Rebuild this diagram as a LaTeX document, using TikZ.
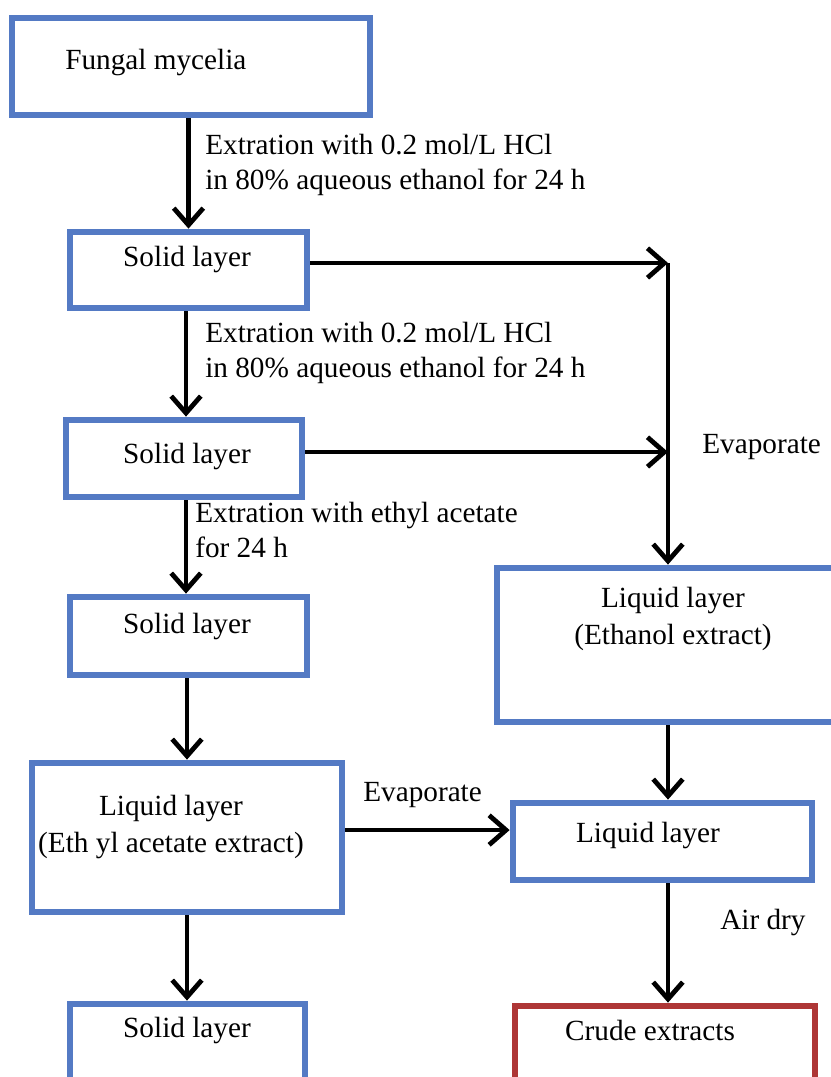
\documentclass[tikz,border=0pt]{standalone}
\usepackage{fontspec}
\setmainfont{Liberation Serif}
\usetikzlibrary{arrows.meta,fit,positioning}
\definecolor{boxblue}{RGB}{84,122,196}
\definecolor{boxred}{RGB}{174,54,54}
\tikzset{
  step box/.style={draw=boxblue,line width=4.8pt,inner sep=0pt},
  end box/.style={step box,draw=boxred},
  box text/.style={font=\fontsize{20.8pt}{26pt}\selectfont,align=center,inner sep=0pt},
  step text/.style={font=\fontsize{20.8pt}{24.9pt}\selectfont,align=left,inner sep=0pt,anchor=west},
  flow/.style={line width=3.4pt,-{Straight Barb[length=12pt,width=21pt]}},
  flow line/.style={line width=3.4pt}
}

\begin{document}
\begin{tikzpicture}[x=0.025cm,y=-0.025cm]
  \useasboundingbox (0,0) rectangle (830,1077);
  % left column
  \node[step box,fit={(12,18) (370,115)}] (fm) {};
  \node[step box,fit={(70,232) (307,308)}] (s1) {};
  \node[step box,fit={(66,420) (302,497)}] (s2) {};
  \node[step box,fit={(70,597) (307,675)}] (s3) {};
  \node[step box,fit={(32,763) (342,912)}] (ea) {};
  \node[step box,fit={(70,1004) (305,1110)}] (s4) {};
  % right column
  \node[step box,fit={(497,568) (849,722)}] (el) {};
  \node[step box,fit={(513,803) (812,880)}] (ll) {};
  \node[end box,fit={(515,1006) (815,1110)}] (ce) {};
  \coordinate (j1) at (668,263);
  \coordinate (j2) at (668,452);

  \node[step text] (fmt) at (65,63) {Fungal mycelia};
  \node[box text] (s1t) at (187,260) {Solid layer};
  \node[box text] (s2t) at (187,457) {Solid layer};
  \node[box text] (s3t) at (187,627) {Solid layer};
  \node[box text] (eat) at (171,827) {Liquid layer\\(Eth yl acetate extract)};
  \node[box text] (s4t) at (187,1030) {Solid layer};
  \node[box text] (elt) at (673,619) {Liquid layer\\(Ethanol extract)};
  \node[box text] (llt) at (648,835) {Liquid layer};
  \node[box text] (cet) at (650,1030) {Crude extracts};

  \node[step text] (x1) at (205,164.5)
    {Extration with 0.2 mol/L HCl\\in 80\% aqueous ethanol for 24 h};
  \node[step text] (x2) at (205,352.5)
    {Extration with 0.2 mol/L HCl\\in 80\% aqueous ethanol for 24 h};
  \node[step text] (x3) at (195,530) {Extration with ethyl acetate\\for 24 h};
  \node[step text] (ev1) at (702,447) {Evaporate};
  \node[step text] (ev2) at (363,795) {Evaporate};
  \node[step text] (ad) at (720,922) {Air dry};

  \draw[flow] (fm.south -| s1) -- (s1.north);
  \draw[flow] (s1.south -| 186,0) -- (s2.north -| 186,0);
  \draw[flow] (s2.south -| 186,0) -- (s3.north -| 186,0);
  \draw[flow] (s3.south -| ea) -- (ea.north);
  \draw[flow] (ea.south) -- (ea.south |- s4.north);
  \draw[flow] (s1.east |- j1) -- (j1);
  \draw[flow] (s2.east |- j2) -- (j2);
  \draw[flow line] (j1) -- (j2);
  \draw[flow] (j2) -- (j2 |- el.north);
  \draw[flow] (el.south -| j1) -- (ll.north -| j1);
  \draw[flow] ([yshift=5.3pt]ea.east) -- ([yshift=5.3pt]ea.east -| ll.west);
  \draw[flow] (ll.south -| j1) -- (ce.north -| j1);
\end{tikzpicture}
\end{document}
